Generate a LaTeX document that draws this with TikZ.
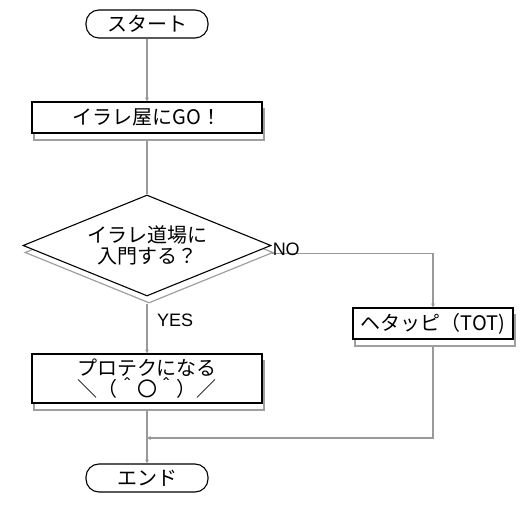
\documentclass[tikz,border=0pt]{standalone}
\usepackage{fontspec}
\setmainfont{Noto Sans CJK JP}
\newfontfamily\latfont{Liberation Sans}
\usetikzlibrary{shapes.geometric,shadows,arrows.meta}

\tikzset{
  kage/.style={general shadow={draw=gray!75,fill=white,line width=1.2pt,
      shadow xshift=2pt,shadow yshift=-7pt}},
  terminal/.style={draw,line width=1.1pt,rounded corners=13pt,fill=white,
      minimum width=122pt,minimum height=28pt,inner sep=0pt},
  process/.style={draw,line width=1.1pt,fill=white,kage,inner sep=0pt,
      minimum width=230pt,minimum height=31pt,align=center},
  decision/.style={diamond,aspect=2.45,draw,line width=1.1pt,fill=white,kage,
      inner sep=0pt,minimum width=248pt,minimum height=101pt,align=center},
  flowline/.style={draw=gray!80,line width=1.3pt},
  arrowline/.style={flowline,-{Stealth[length=4pt,width=4pt]}},
  yesno/.style={font=\latfont\fontsize{18}{19}\selectfont,inner sep=0pt}
}

\begin{document}
\begin{tikzpicture}[x=1pt,y=-1pt,font=\fontsize{20}{21}\selectfont]
\useasboundingbox (0,0) rectangle (528,510);

\node[terminal] (start) at (147,24) {スタート};
\node[process] (iraleya) at (147,117.5) {イラレ屋にGO！};
\node[decision] (dojo) at (147,245.5) {イラレ道場に\\入門する？};
\node[process,minimum height=49pt] (puro) at (147,378.5) {プロテクになる\\＼（＾〇＾）／};
\node[process,minimum width=160pt] (heta) at (433,323.5) {ヘタッピ（TOT)};
\node[terminal] (owari) at (147,478) {エンド};
\coordinate (gouryu) at (147,438);

% connectors
\draw[arrowline] (start) -- (iraleya);
\draw[flowline] ([yshift=-7pt]iraleya.south) -- (dojo.north);
\draw[arrowline] ([yshift=-7pt]dojo.south) -- (puro.north);
\node[yesno,anchor=west] (yes) at (157,320) {YES};
\draw[arrowline] ([yshift=-8pt]dojo.east) -| (heta.north);
\node[yesno,anchor=west] (no) at ([xshift=1pt,yshift=-4pt]dojo.east) {NO};
\draw[arrowline] ([yshift=-7pt]heta.south) |- (gouryu);
\draw[arrowline] ([yshift=-7pt]puro.south) -- (owari.north);
\end{tikzpicture}
\end{document}
